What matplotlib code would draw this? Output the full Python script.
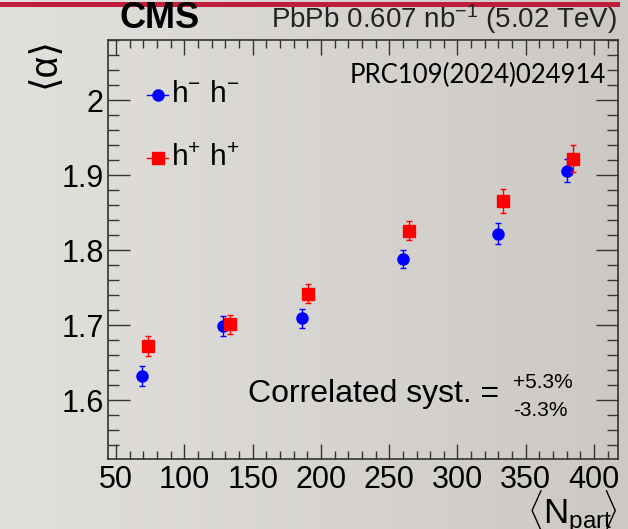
import numpy as np
import matplotlib
matplotlib.use("Agg")
import matplotlib.pyplot as plt
from matplotlib.lines import Line2D
from matplotlib.ticker import MultipleLocator

plt.rcParams['font.family'] = ['Liberation Sans', 'DejaVu Sans']
plt.rcParams['mathtext.fontset'] = 'custom'
plt.rcParams['mathtext.rm'] = 'Liberation Sans'
plt.rcParams['mathtext.it'] = 'Liberation Sans:italic'
plt.rcParams['mathtext.bf'] = 'Liberation Sans:bold'

# Data
npart_mm = [68.7, 128.5, 186.0, 260.0, 329.8, 380.3]
alpha_mm = [1.632, 1.699, 1.709, 1.788, 1.822, 1.906]
err_mm = [0.013, 0.013, 0.013, 0.012, 0.014, 0.015]

npart_pp = [73.1, 133.4, 190.5, 264.5, 333.5, 384.7]
alpha_pp = [1.672, 1.701, 1.742, 1.826, 1.866, 1.922]
err_pp = [0.013, 0.013, 0.013, 0.013, 0.016, 0.018]

labels = ['h$^{-}$ h$^{-}$', 'h$^{+}$ h$^{+}$']

W, H = 628, 529
fig = plt.figure(figsize=(W / 100, H / 100), dpi=100)

# background gradient
bg = fig.add_axes([0, 0, 1, 1], zorder=-10)
grad = np.linspace(0, 1, 256)
c0 = np.array([226, 224, 221]) / 255.0
c1 = np.array([204, 201, 197]) / 255.0
img = c0[None, :] * (1 - grad[:, None]) + c1[None, :] * grad[:, None]
bg.imshow(img[None, :, :], aspect='auto', extent=[0, 1, 0, 1])
bg.add_patch(plt.Rectangle((0, 1 - 7.3 / H), 620 / W, 5.5 / H, color='#BE1E3C', lw=0))
bg.set_xlim(0, 1); bg.set_ylim(0, 1)
bg.axis('off')

ax = fig.add_axes([108 / W, 1 - 459.3 / H, (617.7 - 108) / W, (459.3 - 40) / H])
ax.patch.set_alpha(0)

ax.errorbar(npart_mm, alpha_mm, yerr=err_mm, fmt='o', color='#0000FF', ms=8,
            elinewidth=1.0, capsize=2.5, capthick=1.0, zorder=3)
ax.errorbar(npart_pp, alpha_pp, yerr=err_pp, fmt='s', color='#FF0000', ms=8.5,
            elinewidth=1.0, capsize=2.5, capthick=1.0, zorder=4)

ax.set_xlim(44.1, 417.3)
ax.set_ylim(1.5213, 2.08)
ax.xaxis.set_major_locator(MultipleLocator(50))
ax.xaxis.set_minor_locator(MultipleLocator(10))
ax.yaxis.set_major_locator(MultipleLocator(0.1))
ax.yaxis.set_minor_locator(MultipleLocator(0.02))
ax.tick_params(which='both', direction='in', top=True, right=True, width=1.0, color='#333333')
ax.tick_params(axis='x', which='major', length=11, labelsize=22, pad=4)
ax.tick_params(axis='x', which='minor', length=5.5)
ax.tick_params(axis='y', which='major', length=16, labelsize=22, pad=3)
ax.tick_params(axis='y', which='minor', length=8)
ax.set_yticks([1.6, 1.7, 1.8, 1.9, 2.0])
ax.set_yticklabels(['1.6', '1.7', '1.8', '1.9', '2'])
for s in ax.spines.values():
    s.set_color('#333333')
    s.set_linewidth(1.2)

# legend (ROOT style, drawn manually in figure pixels)
for ypx, col, mk, ms, lab in [(94.5, '#0000FF', 'o', 8, labels[0]),
                              (158.3, '#FF0000', 's', 8.5, labels[1])]:
    fy = 1 - ypx / H
    fig.add_artist(Line2D([147 / W, 168 / W], [fy, fy], color=col, lw=1.0))
    fig.add_artist(Line2D([157.5 / W], [fy], color=col, marker=mk, ms=ms, lw=0))
    fig.text(171 / W, fy, lab, fontsize=21.5, ha='left', va='center')

# texts
fig.text(119 / W, 1 - 19 / H, 'CMS', fontsize=26, fontweight='bold', ha='left', va='center')
fig.text(617 / W, 1 - 19 / H, r'PbPb 0.607 nb$^{\mathregular{-1}}$ (5.02 TeV)', fontsize=20,
         ha='right', va='center', color='#222222')
fig.text(606 / W, 1 - 75 / H, 'PRC109(2024)024914', fontsize=18.5, family=['Lato', 'DejaVu Sans'],
         ha='right', va='center')
fig.text(248 / W, 1 - 394 / H, 'Correlated syst. =', fontsize=23, ha='left', va='center')
fig.text(513 / W, 1 - 383 / H, '+5.3%', fontsize=15, ha='left', va='center')
fig.text(513 / W, 1 - 410 / H, '-3.3%', fontsize=15, ha='left', va='center')
fig.text(617 / W, 1 - 512 / H, r'$\langle$N$_{\mathregular{part}}\!\!\rangle$', fontsize=25,
         ha='right', va='center')
fig.text(45 / W, 1 - 62 / H, '⟨α⟩', fontsize=27, rotation=90,
         ha='center', va='center')

fig.savefig('out.png', dpi=100)
